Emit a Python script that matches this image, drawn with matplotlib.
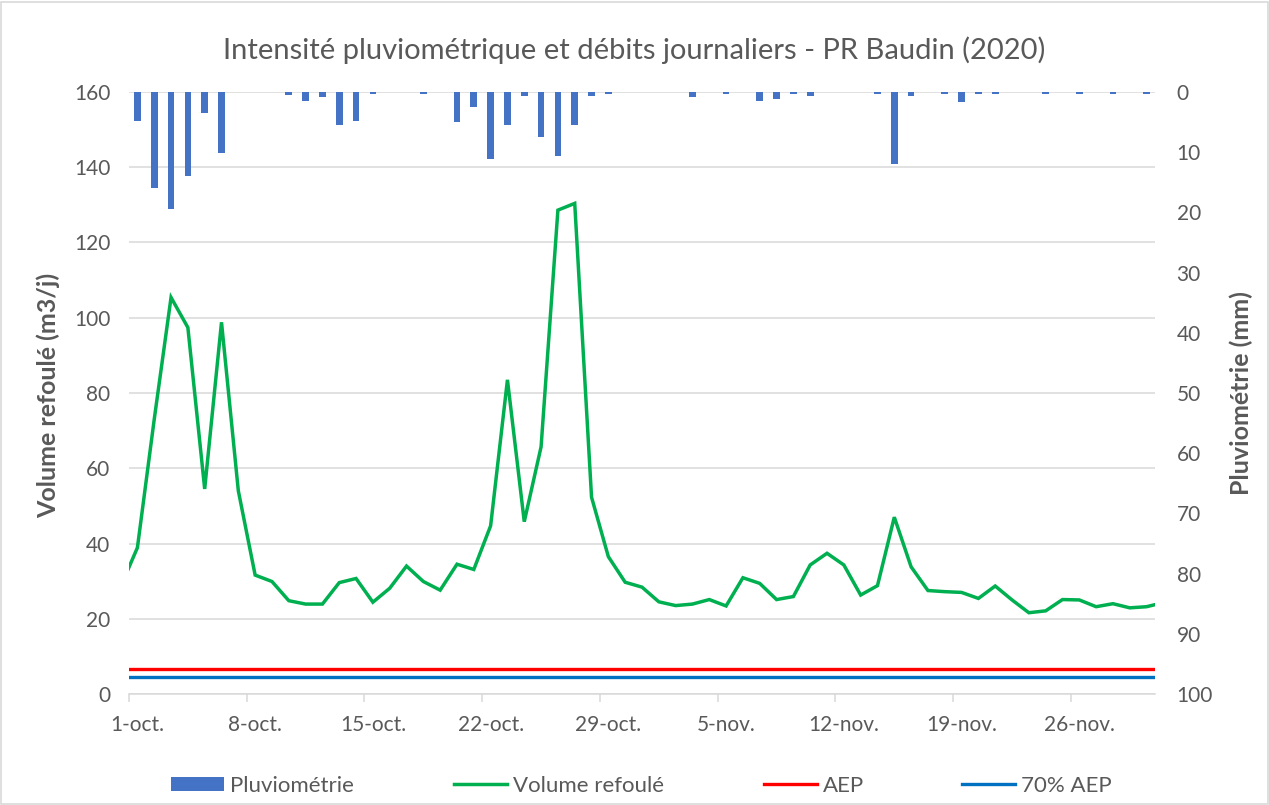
import matplotlib
matplotlib.use("Agg")
import matplotlib.pyplot as plt
from matplotlib.patches import Patch, Rectangle
from matplotlib.lines import Line2D
import numpy as np

plt.rcParams['font.family'] = ['Lato', 'DejaVu Sans']

# ---------------- data ----------------
oct_days = [f"{d}-oct." for d in range(1, 32)]
nov_days = [f"{d}-nov." for d in range(1, 31)]
dates = oct_days + nov_days

# daily pumped volume (m3/j), 1-oct .. 30-nov
volume_oct = [38.9, 73.0, 105.4, 97.4, 54.5, 98.8, 54.0, 31.6, 29.9, 24.8,
              23.9, 23.9, 29.6, 30.7, 24.4, 28.1, 34.0, 29.9, 27.6, 34.5,
              33.1, 44.7, 83.5, 45.8, 65.7, 128.6, 130.4, 52.3, 36.5, 29.7, 28.4]
volume_nov = [24.5, 23.5, 23.9, 25.1, 23.4, 30.9, 29.4, 25.1, 25.9, 34.3,
              37.4, 34.3, 26.3, 28.8, 47.0, 33.8, 27.5, 27.2, 27.0, 25.4,
              28.7, 25.0, 21.6, 22.1, 25.1, 25.0, 23.2, 24.0, 22.9, 23.2]
volume_before = 28.5   # 30-sept (outside the visible range)
volume_after = 24.3    # 1-dec (outside the visible range)

# daily rainfall (mm)
pluvio_oct = [4.8, 16.0, 19.5, 14.0, 3.5, 10.1, 0, 0, 0, 0.5,
              1.5, 0.9, 5.5, 4.8, 0.4, 0, 0, 0.4, 0, 5.0,
              2.5, 11.2, 5.5, 0.6, 7.5, 10.7, 5.5, 0.6, 0.4, 0, 0]
pluvio_nov = [0, 0, 0.9, 0, 0.4, 0, 1.5, 1.2, 0.4, 0.6,
              0, 0, 0, 0.4, 12.0, 0.6, 0, 0.4, 1.7, 0.4,
              0.4, 0, 0, 0.4, 0, 0.4, 0, 0.4, 0, 0.4]

aep = 6.6
aep70 = round(0.7 * aep, 2)

tick_labels = ["1-oct.", "8-oct.", "15-oct.", "22-oct.", "29-oct.",
               "5-nov.", "12-nov.", "19-nov.", "26-nov."]

title = "Intensité pluviométrique et débits journaliers - PR Baudin (2020)"

# ---------------- figure ----------------
W, H = 1269, 805
fig = plt.figure(figsize=(W / 100, H / 100), dpi=100)
fig.patch.set_facecolor("white")
fig.patches.append(Rectangle((0.001, 0.001), 0.998, 0.997, transform=fig.transFigure,
                             fill=False, edgecolor="#D9D9D9", linewidth=1.2))

left, right, top, bottom = 129, 1155, 92, 694
ax = fig.add_axes([left / W, 1 - bottom / H, (right - left) / W, (bottom - top) / H])
ax2 = ax.twinx()

TXT = "#595959"
GRID = "#D9D9D9"

volume = volume_oct + volume_nov
pluvio = pluvio_oct + pluvio_nov
n = len(dates)
x = np.arange(n)
xv = np.arange(-1, n + 1)
yv = [volume_before] + volume + [volume_after]

ax.plot(xv, yv, color="#00B050", linewidth=2.5, solid_joinstyle="miter", zorder=4,
        label="Volume refoulé")
ax.plot([-1, n], [aep, aep], color="#FF0000", linewidth=2.4, zorder=3, label="AEP")
ax.plot([-1, n], [aep70, aep70], color="#0070C0", linewidth=2.4, zorder=3, label="70% AEP")

ax2.bar(x, pluvio, width=0.4, color="#4472C4", zorder=2, label="Pluviométrie")

ax.set_xlim(-0.5, n - 0.5)
ax.set_ylim(0, 160)
ax.set_yticks(np.arange(0, 161, 20))
ax2.set_ylim(100, 0)
ax2.set_yticks(np.arange(0, 101, 10))

ax.grid(axis="y", color=GRID, linewidth=1.1, zorder=0)
ax.set_axisbelow(True)
for a in (ax, ax2):
    for s in ("top", "left", "right", "bottom"):
        a.spines[s].set_visible(False)
ax.spines["bottom"].set_visible(True)
ax.spines["bottom"].set_color(GRID)
ax.spines["bottom"].set_linewidth(1.1)

major_pos = [dates.index(t) for t in tick_labels]
ax.set_xticks(major_pos)
ax.set_xticklabels(tick_labels)
ax.set_xticks([p - 0.5 for p in major_pos], minor=True)
ax.tick_params(axis="x", which="major", length=0, pad=15, labelsize=15, labelcolor=TXT)
ax.tick_params(axis="x", which="minor", length=6, width=1.1, color=GRID)
ax.tick_params(axis="y", length=0, pad=13.5, labelsize=15, labelcolor=TXT)
ax2.tick_params(axis="y", length=0, pad=15.5, labelsize=15, labelcolor=TXT)
for lab in ax2.get_yticklabels():
    lab.set_horizontalalignment("left")

fig.text(0.5, 1 - 50 / H, title, ha="center", va="center", fontsize=21, color=TXT)
fig.text(48 / W, 1 - 395 / H, "Volume refoulé (m3/j)", rotation=90, ha="center",
         va="center", fontsize=18, fontweight="bold", color=TXT)
fig.text(1241 / W, 1 - 393 / H, "Pluviométrie (mm)", rotation=90, ha="center",
         va="center", fontsize=18, fontweight="bold", color=TXT)

# legend (one entry per position)
handles = [Patch(facecolor="#4472C4", edgecolor="none"),
           Line2D([], [], color="#00B050", linewidth=2.5),
           Line2D([], [], color="#FF0000", linewidth=2.4),
           Line2D([], [], color="#0070C0", linewidth=2.4)]
labels = ["Pluviométrie", "Volume refoulé", "AEP", "70% AEP"]
starts = [171, 454, 764, 962]
ly = 1 - 786 / H
for h, l, sx in zip(handles, labels, starts):
    fig.legend([h], [l], loc="center left", bbox_to_anchor=(sx / W, ly),
               frameon=False, borderpad=0, borderaxespad=0, handlelength=2.4,
               handleheight=0.63, handletextpad=0.25, fontsize=16, labelcolor=TXT)

fig.savefig("out.png", dpi=100, facecolor="white")
